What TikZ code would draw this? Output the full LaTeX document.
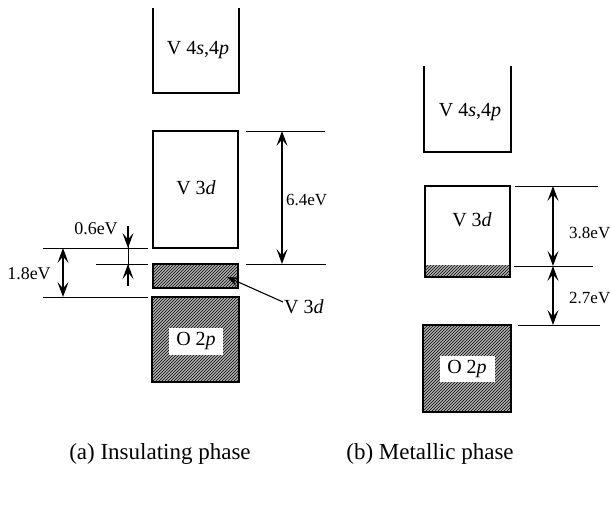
\documentclass[tikz,border=0pt]{standalone}
\usepackage{fontspec}
\setmainfont{Liberation Serif}
\usetikzlibrary{arrows.meta,patterns}
\begin{document}
\begin{tikzpicture}[x=1pt,y=-1pt,
  box/.style={line width=1.7pt},
  lvl/.style={line width=1pt},
  dimarr/.style={line width=1.1pt,{Stealth[length=15pt,width=11pt,inset=6.5pt]}-{Stealth[length=15pt,width=11pt,inset=6.5pt]}},
  tiparr/.style={line width=1.1pt,-{Stealth[length=15pt,width=11pt,inset=6.5pt]}},
  ptarr/.style={line width=1.1pt,-{Stealth[length=12pt,width=9pt,inset=5pt]}},
  hatch/.style={preaction={fill=gray!60},pattern=north east lines},
  blab/.style={font=\fontsize{20}{22}\selectfont,inner sep=1pt},
  elab/.style={font=\fontsize{17}{19}\selectfont,inner sep=1pt},
  elabl/.style={font=\fontsize{18}{20}\selectfont,inner sep=1pt},
  caplab/.style={font=\fontsize{23}{26}\selectfont}]
\fill[white] (0,0) rectangle (611,504);
\useasboundingbox (0,0) rectangle (611,504);

% ---------- left panel ----------
\draw[box] (153,8) -- (153,93) -- (239,93) -- (239,8);
\node[blab] (a4) at (198,50) {V 4\textit{s},4\textit{p}};
\draw[box] (153,131) rectangle (238,248);
\node[blab] (a3) at (196,188) {V 3\textit{d}};
\draw[box,hatch] (153,264) rectangle (238,288);
\draw[box,hatch] (152,297) rectangle (239,382);
\node[blab,fill=white,minimum width=54pt,minimum height=27pt] (a2) at (196,341) {O 2\textit{p}};

\draw[lvl] (246,131) -- (325,131);
\draw[lvl] (246,264) -- (326,264);
\coordinate (t64) at (282,131);
\coordinate (b64) at (282,264);
\draw[dimarr] (t64) -- (b64);
\node[elab,anchor=west] (e64) at (285,200) {6.4eV};

\draw[lvl] (43,248) -- (148,248);
\draw[lvl] (96,264) -- (148,264);
\draw[lvl] (43,297) -- (148,297);
\coordinate (t18) at (63,248);
\coordinate (b18) at (63,297);
\draw[dimarr] (t18) -- (b18);
\node[elabl] (e18) at (29,274) {1.8eV};

\coordinate (s06a) at (128,226);
\coordinate (t06a) at (128,248);
\coordinate (s06b) at (128,286);
\coordinate (t06b) at (128,264);
\draw[lvl] (s06a) -- (s06b);
\draw[tiparr] (s06a) -- (t06a);
\draw[tiparr] (s06b) -- (t06b);
\node[elabl] (e06) at (96,229) {0.6eV};

\node[blab,anchor=west] (pv) at (283,307) {V 3\textit{d}};
\coordinate (ptip) at (227,277);
\draw[ptarr] ([yshift=5pt]pv.west) -- (ptip);

\node[caplab] (capa) at (160,454) {(a) Insulating phase};

% ---------- right panel ----------
\draw[box] (424,66) -- (424,152) -- (511,152) -- (511,66);
\node[blab] (b4) at (470,112) {V 4\textit{s},4\textit{p}};
\fill[hatch] (425,265) rectangle (510,277);
\draw[box] (425,186) rectangle (510,277);
\node[blab] (b3) at (472,220) {V 3\textit{d}};
\draw[box,hatch] (423,325) rectangle (511,412);
\node[blab,fill=white,minimum width=55pt,minimum height=26pt] (b2) at (467,369) {O 2\textit{p}};

\draw[lvl] (515,186) -- (598,186);
\draw[lvl] (514,266) -- (593,266);
\draw[lvl] (518,325) -- (600,325);
\coordinate (r1) at (553,186);
\coordinate (r2) at (553,266);
\coordinate (r3) at (553,325);
\draw[dimarr] (r1) -- (r2);
\draw[dimarr] (r2) -- (r3);
\node[elab,anchor=west] (e38) at (568,233) {3.8eV};
\node[elab,anchor=west] (e27) at (568,298) {2.7eV};

\node[caplab] (capb) at (430,454) {(b) Metallic phase};
\end{tikzpicture}
\end{document}
